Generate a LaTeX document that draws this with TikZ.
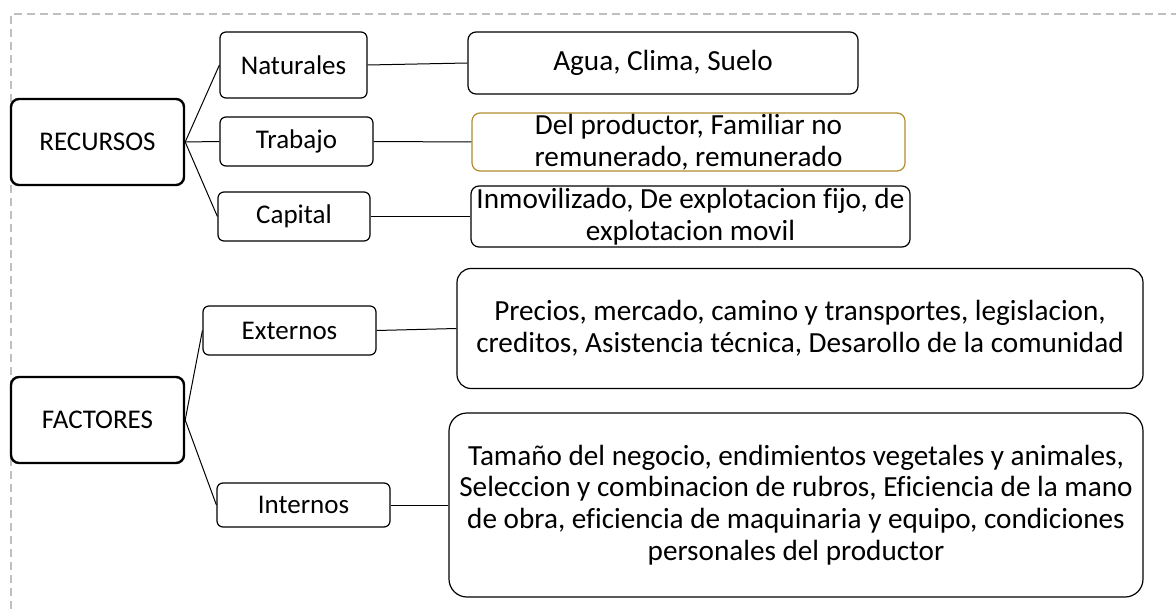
\documentclass[tikz,border=0pt]{standalone}
\usepackage{fontspec}
\setmainfont{Carlito}[Ligatures=CommonOff]
\definecolor{framegray}{RGB}{191,191,191}
\definecolor{goldline}{RGB}{176,140,45}
\tikzset{
    mainbox/.style={draw, line width=1.2pt, rounded corners=4pt, minimum width=86.5pt, minimum height=43pt, inner sep=1pt, font=\fontsize{13.5}{16}\selectfont},
    subbox/.style={draw, line width=0.6pt, rounded corners=3pt, minimum height=24.5pt, inner sep=1pt, font=\fontsize{13.5}{16}\selectfont},
    infobox/.style={draw, line width=0.6pt, rounded corners=4pt, align=center, inner xsep=0.5pt, inner ysep=-3pt, font=\fontsize{14.6}{15.9}\selectfont}
}
\begin{document}
\begin{tikzpicture}[x=0.5pt, y=-0.5pt]
                \useasboundingbox (0,0) rectangle (1176,609);
                \draw[framegray, line width=0.6pt, dash pattern=on 4pt off 2.5pt] (11,609) -- (11,14) -- (1176,14);

                \node[mainbox] (rec) at (97.5,142) {RECURSOS};
                \node[subbox, minimum width=73.5pt, minimum height=33pt] (nat) at (293.5,65) {Naturales};
                \node[subbox, minimum width=76.5pt] (trab) at (296.5,141.5) {Trabajo};
                \node[subbox, minimum width=76pt] (cap) at (294,216.5) {Capital};

                \node[infobox, minimum width=195pt, minimum height=31pt] (agua) at (663,63) {Agua, Clima, Suelo};
                \node[infobox, draw=goldline, minimum width=216.5pt, minimum height=29pt] (prod) at (688.5,142) {Del productor, Familiar no\\remunerado, remunerado};
                \node[infobox, minimum width=219.5pt, minimum height=30.5pt] (inmov) at (690.5,216.5) {Inmovilizado, De explotacion fijo, de\\explotacion movil};

                \node[mainbox] (fac) at (97.5,420) {FACTORES};
                \node[subbox, minimum width=86.5pt] (ext) at (289.5,330.5) {Externos};
                \node[subbox, minimum width=86.5pt, minimum height=22pt] (int) at (303.5,505) {Internos};

                \node[infobox, rounded corners=7pt, minimum width=343pt, minimum height=60pt] (prec) at (800,328.5) {Precios, mercado, camino y transportes, legislacion,\\creditos, Asistencia técnica, Desarollo de la comunidad};
                \node[infobox, rounded corners=9pt, minimum width=347pt, minimum height=92pt] (tam) at (796,505) {Tamaño del negocio, endimientos vegetales y animales,\\Seleccion y combinacion de rubros, Eficiencia de la mano\\de obra, eficiencia de maquinaria y equipo, condiciones\\personales del productor};

                \foreach \a/\b in {rec/nat, rec/trab, rec/cap, nat/agua, trab/prod, cap/inmov, fac/ext, fac/int, ext/prec, int/tam} {
                        \draw[line width=0.5pt] (\a.east) -- (\b.west);
                    }
            \end{tikzpicture}
\end{document}
